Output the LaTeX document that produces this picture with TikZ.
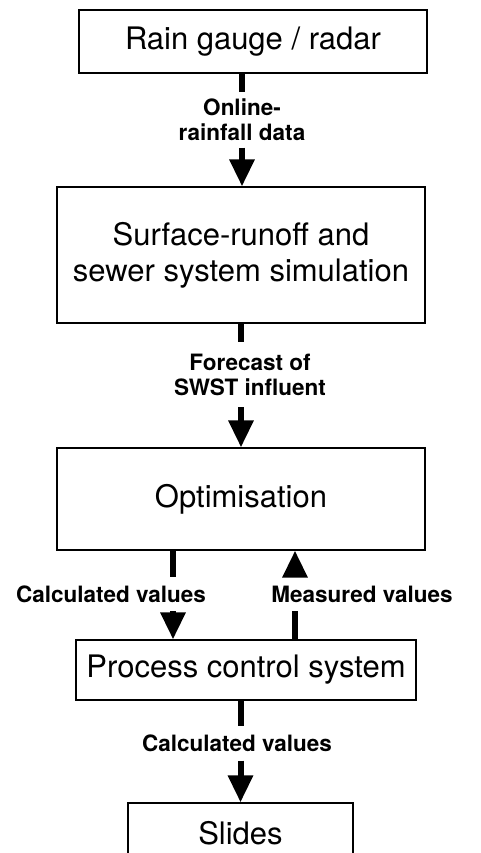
\documentclass[tikz,border=0pt]{standalone}
\usepackage{fontspec}
\setmainfont{TeX Gyre Heros}
\usetikzlibrary{arrows.meta}

\begin{document}
\begin{tikzpicture}[
    x=1pt, y=1pt,
    block/.style={rectangle, draw=black, line width=1.2pt, align=center, inner sep=0pt, font=\fontsize{31}{36}\selectfont},
    flowlabel/.style={align=center, inner xsep=2pt, inner ysep=8.5pt, font=\bfseries\fontsize{22.5}{25}\selectfont},
    feedline/.style={line width=6pt},
    feedarrow/.style={line width=6pt, -{Triangle[width=24pt, length=27pt]}}
]
    \clip (0,0) rectangle (481,-853);

    \node (gauge) [block, minimum width=348pt, minimum height=63pt] at (253,-41.5) {Rain gauge / radar};
    \node (sim) [block, minimum width=368pt, minimum height=136pt] at (241,-255) {Surface-runoff and\\sewer system simulation};
    \node (optim) [block, minimum width=368pt, minimum height=102pt] at (241,-499) {Optimisation};
    \node (pcs) [block, minimum width=340pt, minimum height=60pt] at (246,-670) {Process control system};
    \node (slides) [block, minimum width=225pt, minimum height=60pt] at (240.5,-833) {Slides};

    \node (online) [flowlabel, inner ysep=6.4pt] at (242,-120) {Online-\\rainfall data};
    \node (forecast) [flowlabel, inner ysep=11.9pt] at (250,-374.5) {Forecast of\\SWST influent};
    \node (calcup) [flowlabel] at (111,-594) {Calculated values};
    \node (meas) [flowlabel] at (362,-594) {Measured values};
    \node (calcdown) [flowlabel, inner ysep=8.4pt] at (237,-743.5) {Calculated values};

    \coordinate (calcx) at ([xshift=-68pt]optim.south);
    \coordinate (measx) at ([xshift=54pt]optim.south);

    \draw[feedline] (online.north |- gauge.south) -- (online.north);
    \draw[feedarrow] (online.south) -- (online.south |- sim.north);
    \draw[feedline] (sim.south) -- (sim.south |- forecast.north);
    \draw[feedarrow] (sim.south |- forecast.south) -- (optim.north);
    \draw[feedline] (calcx) -- (calcx |- calcup.north);
    \draw[feedarrow] (calcx |- calcup.south) -- (calcx |- pcs.north);
    \draw[feedline] (measx |- pcs.north) -- (measx |- meas.south);
    \draw[feedarrow] (measx |- meas.north) -- (measx);
    \draw[feedline] (slides.north |- pcs.south) -- (slides.north |- calcdown.north);
    \draw[feedarrow] (slides.north |- calcdown.south) -- (slides.north);
\end{tikzpicture}
\end{document}
